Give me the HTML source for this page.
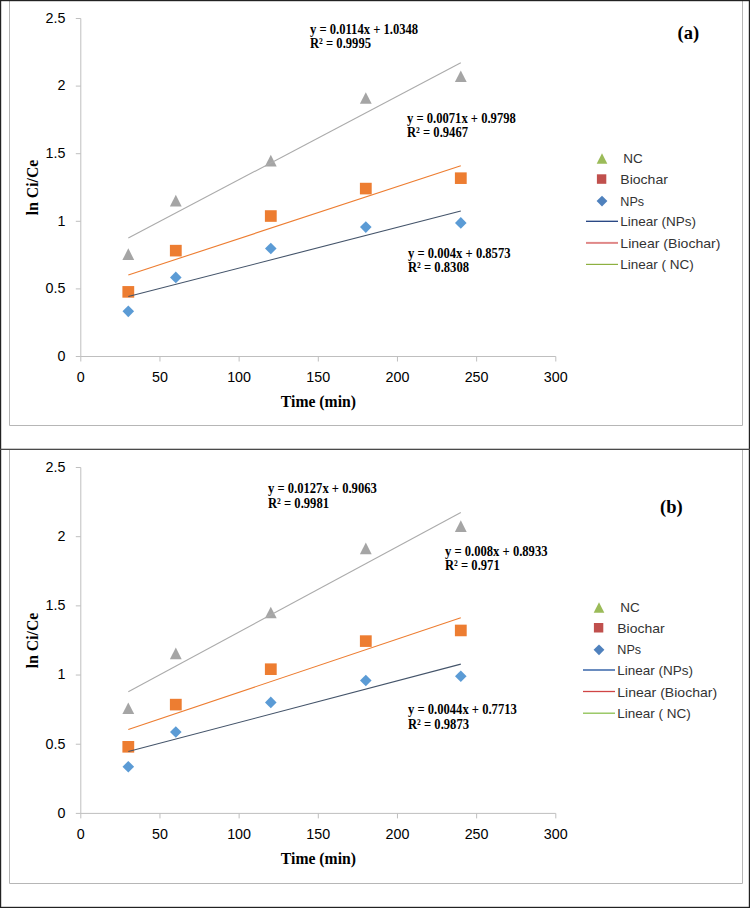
<!DOCTYPE html>
<html><head><meta charset="utf-8"><style>
html,body{margin:0;padding:0;background:#fff;}
svg{display:block;}
.tk{font-family:"Liberation Sans",sans-serif;font-size:14.3px;fill:#000;}
.tt{font-family:"Liberation Serif",serif;font-weight:bold;font-size:15.7px;fill:#000;}
.eq{font-family:"Liberation Serif",serif;font-weight:bold;font-size:12.6px;fill:#000;}
.lb{font-family:"Liberation Serif",serif;font-weight:bold;font-size:18.5px;fill:#000;}
.lg{font-family:"Liberation Sans",sans-serif;font-size:13.5px;fill:#333;}
</style></head><body>
<svg width="750" height="908" viewBox="0 0 750 908">
<rect width="750" height="908" fill="#fff"/>
<path d="M9.5 0V425.5H742.5V0" stroke="#b6b6b6" stroke-width="1" fill="none"/>
<path d="M9.5 450V883.5H742.5V450" stroke="#b6b6b6" stroke-width="1" fill="none"/>
<path d="M80.8 18.5V356.5H555.8" stroke="#bfbfbf" stroke-width="1" fill="none"/>
<path d="M75.8 356.5H80.8M75.8 288.9H80.8M75.8 221.3H80.8M75.8 153.70000000000002H80.8M75.8 86.10000000000002H80.8M75.8 18.5H80.8M80.8 356.5V361.5M159.96666666666664 356.5V361.5M239.13333333333333 356.5V361.5M318.29999999999995 356.5V361.5M397.46666666666664 356.5V361.5M476.63333333333327 356.5V361.5M555.7999999999998 356.5V361.5" stroke="#bfbfbf" stroke-width="1" fill="none"/>
<text x="65.4" y="360.8" class="tk" text-anchor="end">0</text>
<text x="65.4" y="293.2" class="tk" text-anchor="end">0.5</text>
<text x="65.4" y="225.6" class="tk" text-anchor="end">1</text>
<text x="65.4" y="158.0" class="tk" text-anchor="end">1.5</text>
<text x="65.4" y="90.4" class="tk" text-anchor="end">2</text>
<text x="65.4" y="22.8" class="tk" text-anchor="end">2.5</text>
<text x="80.8" y="382.3" class="tk" text-anchor="middle">0</text>
<text x="160.0" y="382.3" class="tk" text-anchor="middle">50</text>
<text x="239.1" y="382.3" class="tk" text-anchor="middle">100</text>
<text x="318.3" y="382.3" class="tk" text-anchor="middle">150</text>
<text x="397.5" y="382.3" class="tk" text-anchor="middle">200</text>
<text x="476.6" y="382.3" class="tk" text-anchor="middle">250</text>
<text x="555.8" y="382.3" class="tk" text-anchor="middle">300</text>
<text x="318.4" y="406.6" class="tt" text-anchor="middle">Time (min)</text>
<text transform="translate(37.6 187.5) rotate(-90)" class="tt" text-anchor="middle">ln Ci/Ce</text>
<path d="M128.30 248.35L134.20 259.95H122.40Z" fill="#a5a5a5"/>
<path d="M175.80 194.81L181.70 206.41H169.90Z" fill="#a5a5a5"/>
<path d="M270.80 154.80L276.70 166.40H264.90Z" fill="#a5a5a5"/>
<path d="M365.80 92.20L371.70 103.80H359.90Z" fill="#a5a5a5"/>
<path d="M460.80 70.43L466.70 82.03H454.90Z" fill="#a5a5a5"/>
<rect x="122.40" y="286.07" width="11.8" height="11.6" fill="#ed7d31"/>
<rect x="169.90" y="244.84" width="11.8" height="11.6" fill="#ed7d31"/>
<rect x="264.90" y="210.23" width="11.8" height="11.6" fill="#ed7d31"/>
<rect x="359.90" y="182.78" width="11.8" height="11.6" fill="#ed7d31"/>
<rect x="454.90" y="172.37" width="11.8" height="11.6" fill="#ed7d31"/>
<path d="M128.30 305.54L134.10 311.34L128.30 317.14L122.50 311.34Z" fill="#5b9bd5"/>
<path d="M175.80 271.61L181.60 277.41L175.80 283.21L170.00 277.41Z" fill="#5b9bd5"/>
<path d="M270.80 242.68L276.60 248.48L270.80 254.28L265.00 248.48Z" fill="#5b9bd5"/>
<path d="M365.80 221.31L371.60 227.11L365.80 232.91L360.00 227.11Z" fill="#5b9bd5"/>
<path d="M460.80 217.12L466.60 222.92L460.80 228.72L455.00 222.92Z" fill="#5b9bd5"/>
<line x1="128.30" y1="296.51" x2="460.80" y2="211.07" stroke="#44546a" stroke-width="1.1"/>
<line x1="128.30" y1="275.02" x2="460.80" y2="165.73" stroke="#ed7d31" stroke-width="1.1"/>
<line x1="128.30" y1="237.99" x2="460.80" y2="62.84" stroke="#ababab" stroke-width="1.1"/>
<text transform="translate(310 33.7) scale(1 1.13)" class="eq">y = 0.0114x + 1.0348</text>
<text transform="translate(310 48.1) scale(1 1.13)" class="eq">R² = 0.9995</text>
<text transform="translate(407 122.9) scale(1 1.13)" class="eq">y = 0.0071x + 0.9798</text>
<text transform="translate(407 137.3) scale(1 1.13)" class="eq">R² = 0.9467</text>
<text transform="translate(408 257.9) scale(1 1.13)" class="eq">y = 0.004x + 0.8573</text>
<text transform="translate(408 272.3) scale(1 1.13)" class="eq">R² = 0.8308</text>
<text x="677.5" y="39" class="lb">(a)</text>
<text x="623.3" y="162.8" class="lg">NC</text>
<text x="620.3" y="184.4" class="lg" textLength="47.6" lengthAdjust="spacingAndGlyphs">Biochar</text>
<text x="620.3" y="205.7" class="lg" textLength="23.8" lengthAdjust="spacingAndGlyphs">NPs</text>
<text x="620.3" y="226.4" class="lg">Linear (NPs)</text>
<text x="620.3" y="247.7" class="lg" textLength="100.2" lengthAdjust="spacingAndGlyphs">Linear (Biochar)</text>
<text x="620.3" y="268.6" class="lg">Linear ( NC)</text>
<path d="M602 153.3L607.3 163.7H596.7Z" fill="#9bbb59"/>
<rect x="596.9" y="174.29999999999998" width="9.4" height="9.5" fill="#c0504d"/>
<path d="M602 195.7L607.4 201.1L602 206.5L596.6 201.1Z" fill="#4f81bd"/>
<line x1="586" y1="221.3" x2="618" y2="221.3" stroke="#1f3f7f" stroke-width="1.3"/>
<line x1="586" y1="242.9" x2="618" y2="242.9" stroke="#e08888" stroke-width="2"/>
<line x1="586" y1="264.4" x2="618" y2="264.4" stroke="#8db040" stroke-width="1.2"/>
<path d="M80.8 467.5V813.4H555.8" stroke="#bfbfbf" stroke-width="1" fill="none"/>
<path d="M75.8 813.4H80.8M75.8 744.22H80.8M75.8 675.04H80.8M75.8 605.86H80.8M75.8 536.6800000000001H80.8M75.8 467.5H80.8M80.8 813.4V818.4M159.96666666666664 813.4V818.4M239.13333333333333 813.4V818.4M318.29999999999995 813.4V818.4M397.46666666666664 813.4V818.4M476.63333333333327 813.4V818.4M555.7999999999998 813.4V818.4" stroke="#bfbfbf" stroke-width="1" fill="none"/>
<text x="65.4" y="817.7" class="tk" text-anchor="end">0</text>
<text x="65.4" y="748.5" class="tk" text-anchor="end">0.5</text>
<text x="65.4" y="679.3" class="tk" text-anchor="end">1</text>
<text x="65.4" y="610.2" class="tk" text-anchor="end">1.5</text>
<text x="65.4" y="541.0" class="tk" text-anchor="end">2</text>
<text x="65.4" y="471.8" class="tk" text-anchor="end">2.5</text>
<text x="80.8" y="839.2" class="tk" text-anchor="middle">0</text>
<text x="160.0" y="839.2" class="tk" text-anchor="middle">50</text>
<text x="239.1" y="839.2" class="tk" text-anchor="middle">100</text>
<text x="318.3" y="839.2" class="tk" text-anchor="middle">150</text>
<text x="397.5" y="839.2" class="tk" text-anchor="middle">200</text>
<text x="476.6" y="839.2" class="tk" text-anchor="middle">250</text>
<text x="555.8" y="839.2" class="tk" text-anchor="middle">300</text>
<text x="318.4" y="863.5" class="tt" text-anchor="middle">Time (min)</text>
<text transform="translate(37.6 640.5) rotate(-90)" class="tt" text-anchor="middle">ln Ci/Ce</text>
<path d="M128.30 702.41L134.20 714.01H122.40Z" fill="#a5a5a5"/>
<path d="M175.80 647.62L181.70 659.22H169.90Z" fill="#a5a5a5"/>
<path d="M270.80 606.67L276.70 618.27H264.90Z" fill="#a5a5a5"/>
<path d="M365.80 542.61L371.70 554.21H359.90Z" fill="#a5a5a5"/>
<path d="M460.80 520.33L466.70 531.93H454.90Z" fill="#a5a5a5"/>
<rect x="122.40" y="741.01" width="11.8" height="11.6" fill="#ed7d31"/>
<rect x="169.90" y="698.81" width="11.8" height="11.6" fill="#ed7d31"/>
<rect x="264.90" y="663.39" width="11.8" height="11.6" fill="#ed7d31"/>
<rect x="359.90" y="635.31" width="11.8" height="11.6" fill="#ed7d31"/>
<rect x="454.90" y="624.65" width="11.8" height="11.6" fill="#ed7d31"/>
<path d="M128.30 760.94L134.10 766.74L128.30 772.54L122.50 766.74Z" fill="#5b9bd5"/>
<path d="M175.80 726.21L181.60 732.01L175.80 737.81L170.00 732.01Z" fill="#5b9bd5"/>
<path d="M270.80 696.60L276.60 702.40L270.80 708.20L265.00 702.40Z" fill="#5b9bd5"/>
<path d="M365.80 674.74L371.60 680.54L365.80 686.34L360.00 680.54Z" fill="#5b9bd5"/>
<path d="M460.80 670.45L466.60 676.25L460.80 682.05L455.00 676.25Z" fill="#5b9bd5"/>
<line x1="128.30" y1="751.56" x2="460.80" y2="664.12" stroke="#44546a" stroke-width="1.1"/>
<line x1="128.30" y1="729.57" x2="460.80" y2="617.72" stroke="#ed7d31" stroke-width="1.1"/>
<line x1="128.30" y1="691.67" x2="460.80" y2="512.42" stroke="#ababab" stroke-width="1.1"/>
<text transform="translate(268 493.2) scale(1 1.13)" class="eq">y = 0.0127x + 0.9063</text>
<text transform="translate(268 507.6) scale(1 1.13)" class="eq">R² = 0.9981</text>
<text transform="translate(445 555.9) scale(1 1.13)" class="eq">y = 0.008x + 0.8933</text>
<text transform="translate(445 570.3) scale(1 1.13)" class="eq">R² = 0.971</text>
<text transform="translate(408 714.3) scale(1 1.13)" class="eq">y = 0.0044x + 0.7713</text>
<text transform="translate(408 728.7) scale(1 1.13)" class="eq">R² = 0.9873</text>
<text x="660" y="512.7" class="lb">(b)</text>
<text x="620.3" y="611.8" class="lg">NC</text>
<text x="617.3" y="633.1" class="lg" textLength="47.4" lengthAdjust="spacingAndGlyphs">Biochar</text>
<text x="617.3" y="654.4" class="lg" textLength="23.8" lengthAdjust="spacingAndGlyphs">NPs</text>
<text x="617.3" y="675.3" class="lg">Linear (NPs)</text>
<text x="617.3" y="696.7" class="lg" textLength="99.8" lengthAdjust="spacingAndGlyphs">Linear (Biochar)</text>
<text x="617.3" y="717.6" class="lg">Linear ( NC)</text>
<path d="M599 602.3L604.3 612.7H593.7Z" fill="#9bbb59"/>
<rect x="593.9" y="623.0000000000001" width="9.4" height="9.5" fill="#c0504d"/>
<path d="M599 644.4L604.4 649.8L599 655.1999999999999L593.6 649.8Z" fill="#4f81bd"/>
<line x1="583" y1="670.0" x2="615" y2="670.0" stroke="#5a7fb8" stroke-width="1.8"/>
<line x1="583" y1="691.5" x2="615" y2="691.5" stroke="#d04545" stroke-width="1.3"/>
<line x1="583" y1="713.2" x2="615" y2="713.2" stroke="#8cc050" stroke-width="1.3"/>
<rect x="0" y="0" width="750" height="1.2" fill="#222"/>
<rect x="0" y="906.8" width="750" height="1.2" fill="#222"/>
<rect x="0" y="0" width="1.2" height="908" fill="#222"/>
<rect x="748.8" y="0" width="1.2" height="908" fill="#222"/>
<rect x="0" y="448.7" width="750" height="1.3" fill="#4a4a4a"/>
</svg>
</body></html>
